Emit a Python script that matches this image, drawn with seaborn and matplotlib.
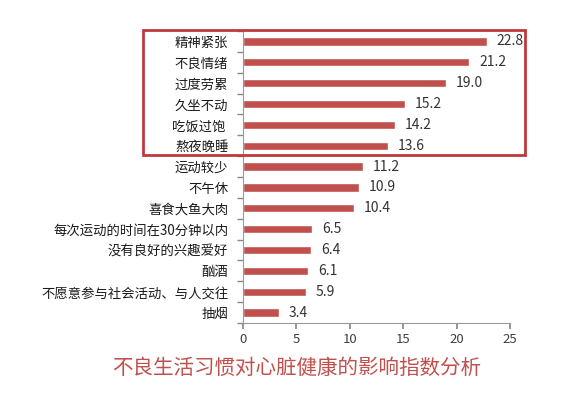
import matplotlib
matplotlib.use("Agg")
import matplotlib.pyplot as plt
from matplotlib.patches import Rectangle
import seaborn as sns
import pandas as pd
import numpy as np

categories = ["精神紧张", "不良情绪", "过度劳累", "久坐不动", "吃饭过饱 ", "熬夜晚睡",
              "运动较少", "不午休", "喜食大鱼大肉", "每次运动的时间在30分钟以内",
              "没有良好的兴趣爱好", "酗酒", "不愿意参与社会活动、与人交往", "抽烟"]
values = [22.8, 21.2, 19.0, 15.2, 14.2, 13.6, 11.2, 10.9, 10.4, 6.5, 6.4, 6.1, 5.9, 3.4]
x_ticks = [0, 5, 10, 15, 20, 25]
title = "不良生活习惯对心脏健康的影响指数分析"

sns.set_theme(style="white")
plt.rcParams['font.family'] = ['Noto Sans CJK SC', 'DejaVu Sans']

df = pd.DataFrame({"cat": categories, "val": values})

fig = plt.figure(figsize=(5.78, 3.93), dpi=100)
ax = fig.add_axes([243/578, 1-323/393, (510-243)/578, (323-31)/393])
sns.barplot(data=df, x="val", y="cat", orient="h", color="#c0504d",
            width=0.4, ax=ax, saturation=1)

ax.set_xlim(0, 25)
ax.set_ylim(len(categories)-0.5, -0.5)
ax.set_xticks(x_ticks)
ax.set_xticklabels([str(t) for t in x_ticks], fontsize=9.5, color="#404040")
ax.set_xlabel("")
ax.set_ylabel("")
ax.tick_params(axis="y", length=0, pad=10.5, labelsize=9.6, labelcolor="#1a1a1a")
ax.set_yticks(np.arange(-0.5, len(categories), 1), minor=True)
ax.tick_params(axis="y", which="minor", length=4, color="#888888", direction="out", left=True)
ax.tick_params(axis="x", length=4, color="#888888", direction="out", bottom=True, pad=3)
for s in ["top", "right"]:
    ax.spines[s].set_visible(False)
for s in ["left", "bottom"]:
    ax.spines[s].set_color("#999999")
    ax.spines[s].set_linewidth(0.8)

for c in ax.containers:
    ax.bar_label(c, labels=[f"{v:.1f}" for v in values], padding=7, fontsize=10, color="#333333")

fig.add_artist(Rectangle((143/578, 1-155/393), (525-143)/578, (155-30)/393,
                         transform=fig.transFigure, fill=False,
                         edgecolor="#c0393b", linewidth=2))

fig.text(297/578, 1-368/393, title, ha="center", va="center", fontsize=14.8, color="#c0504d")

fig.savefig("out.png", dpi=100)
